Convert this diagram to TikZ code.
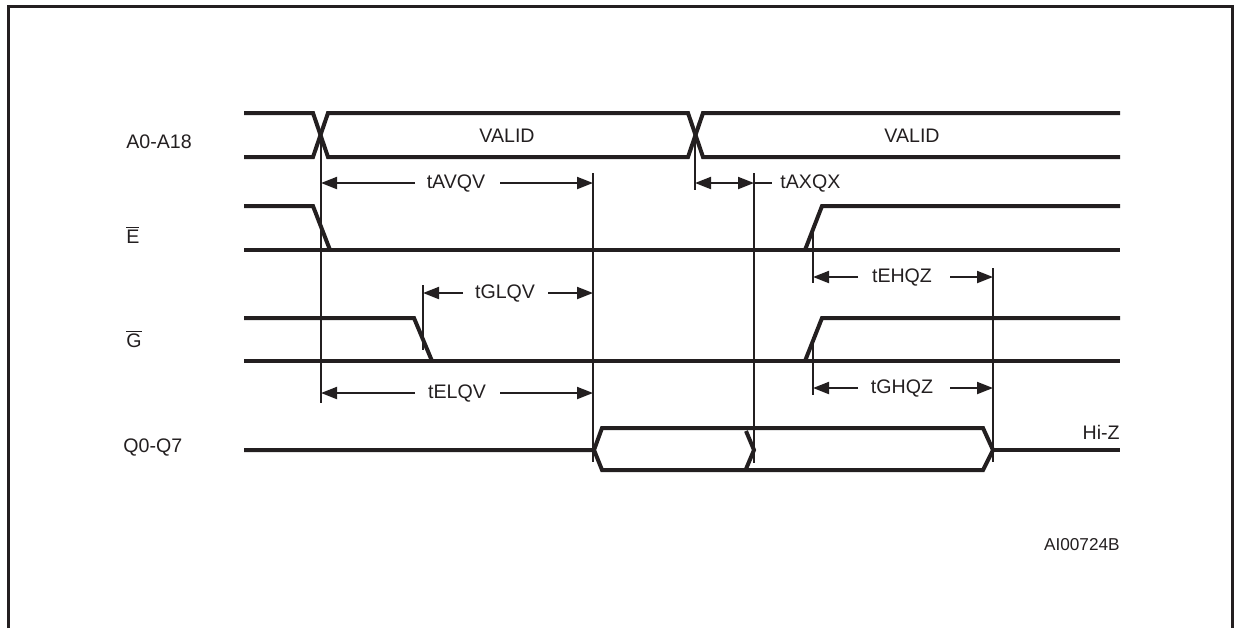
\documentclass[tikz,border=0pt]{standalone}
\usepackage{fontspec}
\setmainfont{Liberation Sans}
\usetikzlibrary{arrows.meta}
\definecolor{ink}{RGB}{35,31,32}
\begin{document}
\begin{tikzpicture}[x=0.5pt,y=-0.5pt,color=ink,
  sig/.style={line width=2pt},
  refl/.style={line width=1pt},
  dim/.style={line width=1pt,-{Triangle[length=8pt,width=6pt]}},
  lbl/.style={font=\fontsize{9.8}{11}\selectfont,inner sep=0pt},
  code/.style={font=\fontsize{8.6}{10}\selectfont,inner sep=0pt}]
\useasboundingbox (0,0) rectangle (1240,628);
% frame
\draw[line width=1.5pt] (8,628) -- (8,6) -- (1232,6) -- (1232,628);
% signal names
\node[lbl,anchor=west] (nA) at (126,142) {A0-A18};
\node[lbl,anchor=west] (nE) at (126,235) {$\overline{\mbox{E}}$};
\node[lbl,anchor=west] (nG) at (126,339) {$\overline{\mbox{G}}$};
\node[lbl,anchor=west] (nQ) at (123,447) {Q0-Q7};
% address bus
\draw[sig] (244,113) -- (313,113) -- (328,157) -- (688,157) -- (703,113) -- (1120,113);
\draw[sig] (244,157) -- (313,157) -- (328,113) -- (688,113) -- (703,157) -- (1120,157);
\node[lbl] (va) at (507,136) {VALID};
\node[lbl] (vb) at (912,136) {VALID};
% chip enable
\draw[sig] (244,206) -- (313,206) -- (330,250);
\draw[sig] (244,250) -- (1120,250);
\draw[sig] (805,250) -- (822,206) -- (1120,206);
% output enable
\draw[sig] (244,318) -- (414,318) -- (432,361);
\draw[sig] (244,361) -- (1120,361);
\draw[sig] (805,361) -- (822,318) -- (1120,318);
% data out
\draw[sig] (244,450) -- (594,450) -- (602,428) -- (983,428) -- (993,450) -- (983,470) -- (602,470) -- (594,450);
\draw[sig] (746,431) -- (754,450) -- (746,469);
\draw[sig] (993,450) -- (1120,450);
\node[lbl,anchor=east] (hz) at (1120,432) {Hi-Z};
% reference lines
\draw[refl] (321,135) -- (321,403);
\draw[refl] (593,173) -- (593,462);
\draw[refl] (423,285) -- (423,350);
\draw[refl] (695,135) -- (695,190);
\draw[refl] (754,173) -- (754,463);
\draw[refl] (813,228) -- (813,283);
\draw[refl] (813,337) -- (813,395);
\draw[refl] (993,268) -- (993,462);
% timings
\node[lbl] (avqv) at (456,183) {tAVQV};
\draw[dim] (415,183) -- (321,183);
\draw[dim] (500,183) -- (593,183);
\draw[refl,{Triangle[length=8pt,width=6pt]}-{Triangle[length=8pt,width=6pt]}] (695,183) -- (754,183);
\draw[refl] (754,183) -- (772,183);
\node[lbl,anchor=west] (axqx) at (780,183) {tAXQX};
\node[lbl] (glqv) at (505,293) {tGLQV};
\draw[dim] (463,293) -- (423,293);
\draw[dim] (548,293) -- (593,293);
\node[lbl] (ehqz) at (902,277) {tEHQZ};
\draw[dim] (858,277) -- (813,277);
\draw[dim] (950,277) -- (993,277);
\node[lbl] (ghqz) at (902,388) {tGHQZ};
\draw[dim] (858,388) -- (813,388);
\draw[dim] (950,388) -- (993,388);
\node[lbl] (elqv) at (457,393) {tELQV};
\draw[dim] (415,393) -- (321,393);
\draw[dim] (500,393) -- (593,393);
\node[code,anchor=east] (fid) at (1120,545) {AI00724B};
\end{tikzpicture}
\end{document}
